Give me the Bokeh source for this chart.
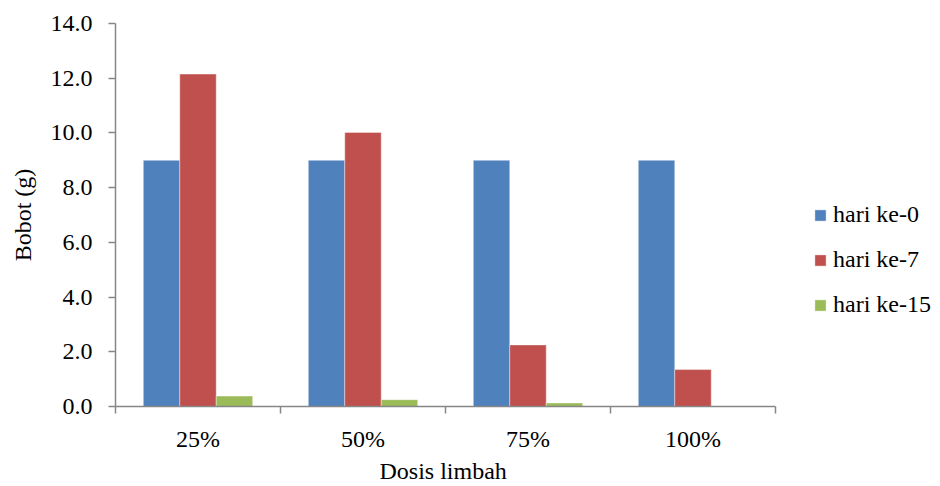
from bokeh.plotting import figure
from bokeh.models import ColumnDataSource, Range1d, FixedTicker, Legend, LegendItem, NumeralTickFormatter, Title
from bokeh.transform import dodge
from bokeh.embed import file_html
from bokeh.resources import INLINE

categories = ["25%", "50%", "75%", "100%"]
hari0 = [9.0, 9.0, 9.0, 9.0]
hari7 = [12.15, 10.02, 2.25, 1.35]
hari15 = [0.38, 0.25, 0.13, 0.0]
series_names = ["hari ke-0", "hari ke-7", "hari ke-15"]
colors = ["#4F81BD", "#C0504D", "#9BBB59"]
y_ticks = [0, 2, 4, 6, 8, 10, 12, 14]
x_title = "Dosis limbah"
y_title = "Bobot (g)"

FONT = "Liberation Serif, Times New Roman, serif"
FS = "24px"
AXIS_COLOR = "#868686"

n = len(categories)
centers = [i + 0.5 for i in range(n)]
bounds = list(range(n + 1))
src = ColumnDataSource(dict(x=centers, h0=hari0, h7=hari7, h15=hari15))

# frame spans to the right edge so the legend is not clipped; axis bounded to categories
p = figure(width=940, height=486, output_backend="svg", toolbar_location=None,
           x_range=Range1d(0, n * 825 / 660), y_range=Range1d(0, 14),
           min_border_left=115, min_border_right=0, min_border_top=23, min_border_bottom=80)
p.outline_line_color = None
p.xgrid.visible = False
p.ygrid.visible = False

bw = 0.221
renderers = []
for field, off, col in zip(["h0", "h7", "h15"], [-bw, 0.0, bw], colors):
    r = p.vbar(x=dodge("x", off, range=p.x_range), top=field, width=bw, bottom=0,
               source=src, fill_color=col, line_color="white", line_width=0.4)
    renderers.append(r)

# x axis
xa = p.xaxis[0]
xa.bounds = (0, n)
xa.ticker = FixedTicker(ticks=centers, minor_ticks=bounds)
xa.major_label_overrides = {c: lab for c, lab in zip(centers, categories)}
xa.major_tick_line_color = None
xa.major_tick_out = 0
xa.major_tick_in = 0
xa.minor_tick_out = 7
xa.minor_tick_in = 0
xa.minor_tick_line_color = AXIS_COLOR
xa.axis_line_color = AXIS_COLOR
xa.axis_line_width = 1.5
xa.minor_tick_line_width = 1.5
xa.major_label_standoff = 12

# x axis title, centred under the category span
p.add_layout(Title(text=x_title, align="left", offset=264, standoff=2,
                   text_font=FONT, text_font_size=FS, text_font_style="normal",
                   text_color="#000000"), "below")

# y axis
ya = p.yaxis[0]
ya.ticker = FixedTicker(ticks=y_ticks, minor_ticks=[])
ya.formatter = NumeralTickFormatter(format="0.0")
ya.major_tick_out = 7
ya.major_tick_in = 0
ya.major_tick_line_color = AXIS_COLOR
ya.major_tick_line_width = 1.5
ya.axis_line_color = AXIS_COLOR
ya.axis_line_width = 1.5
ya.minor_tick_line_color = None
ya.major_label_standoff = 16
ya.axis_label = y_title
ya.axis_label_standoff = 12

for ax in (xa, ya):
    ax.major_label_text_font = FONT
    ax.major_label_text_font_size = FS
    ax.major_label_text_color = "#000000"
    ax.axis_label_text_font = FONT
    ax.axis_label_text_font_size = FS
    ax.axis_label_text_font_style = "normal"
    ax.axis_label_text_color = "#000000"

items = [LegendItem(label=nm, renderers=[r]) for nm, r in zip(series_names, renderers)]
legend = Legend(items=items, location=(698, 88), orientation="vertical",
                glyph_width=14, glyph_height=14, label_height=24, label_standoff=6,
                spacing=18, padding=0, margin=0, border_line_color=None,
                background_fill_alpha=0,
                label_text_font=FONT, label_text_font_size=FS, label_text_color="#000000")
p.add_layout(legend, "center")

open("out.html", "w").write(file_html(p, INLINE))
